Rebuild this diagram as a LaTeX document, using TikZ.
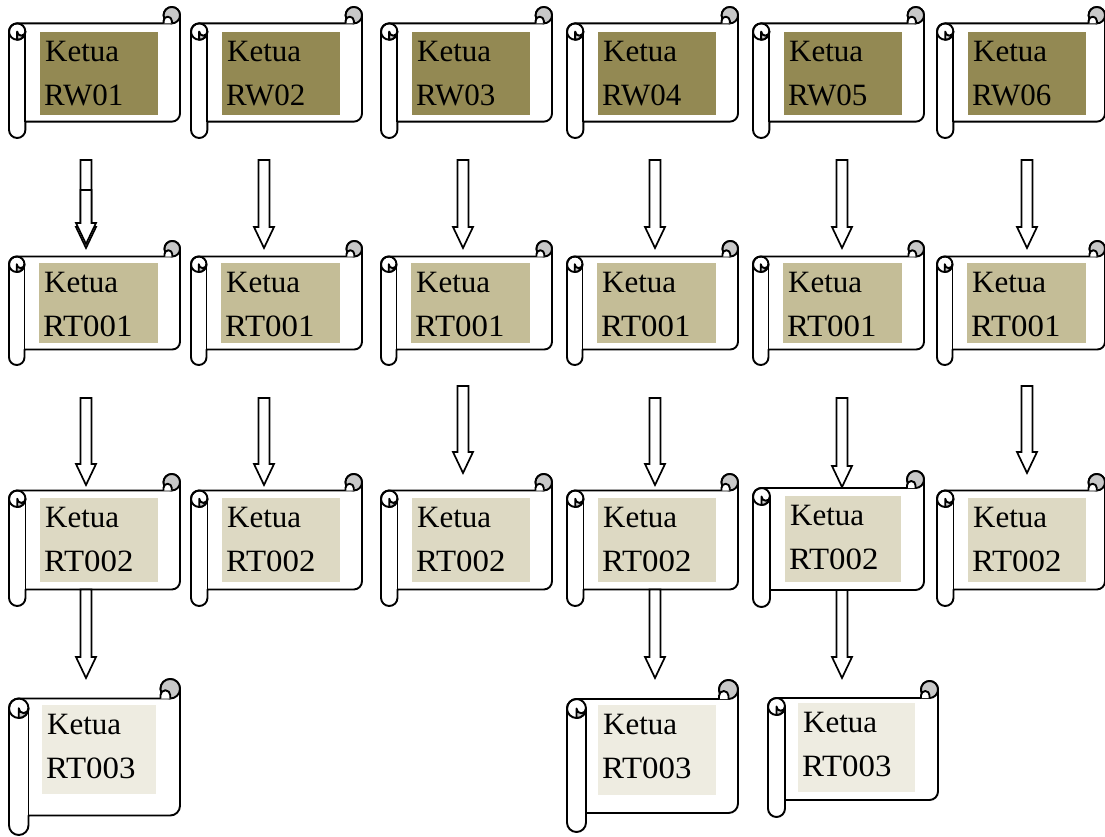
\documentclass[tikz,border=0pt]{standalone}
\usepackage{fontspec}
\setmainfont{Liberation Serif}
\newfontfamily\codefont[FakeStretch=1.06]{Liberation Serif}
\usetikzlibrary{calc}

\definecolor{olivetag}{HTML}{938953}
\definecolor{tantag}{HTML}{C4BD97}
\definecolor{sandtag}{HTML}{DDD9C3}
\definecolor{paletag}{HTML}{EEECE1}
\definecolor{curlgray}{HTML}{C8C8C8}

\tikzset{
  scrollline/.style={draw=black, line width=1.9pt, line join=round},
  scrollframe/.style={inner sep=0pt, outer sep=0pt, draw=none},
  plate/.style={inner sep=0pt, outer sep=0pt, draw=none},
  lbl/.style={inner sep=0pt, anchor=base west, font=\fontsize{31}{37}\selectfont},
  arrowbody/.style={draw=black, fill=white, line width=1.7pt, line join=miter},
  % horizontal scroll: width #1, height #2, origin at the top left corner
  pics/scroll/.style 2 args={code={
    \pgfmathsetmacro\sW{#1}
    \pgfmathsetmacro\sH{#2}
    \pgfmathsetmacro\sR{0.125*min(#1,#2)}
    \pgfmathsetmacro\sQ{\sR/2}
    \pgfmathsetmacro\sS{\sR/4}
    % sheet with the left roll
    \filldraw[scrollline, fill=white]
      (\sQ,\sR) -- ({\sW-\sQ},\sR) arc[start angle=90, end angle=360, radius=\sQ]
      -- (\sW,{\sH-\sR-\sQ}) arc[start angle=0, end angle=90, radius=\sQ]
      -- (\sR,{\sH-\sR}) -- (\sR,{\sH-\sQ}) arc[start angle=0, end angle=180, radius=\sQ]
      -- (0,{\sR+\sQ}) arc[start angle=180, end angle=270, radius=\sQ] -- cycle;
    % top right curl
    \filldraw[scrollline, fill=curlgray] ({\sW-\sQ},\sQ) circle[radius=\sQ];
    \filldraw[scrollline, fill=white]
      ({\sW-\sR},\sR) -- ({\sW-\sR},{\sQ+\sS+1.5})
      arc[start angle=180, end angle=360, radius=\sS] -- ({\sW-\sQ},\sR);
    % top of the left roll
    \draw[scrollline] (\sQ,{\sR+\sQ}) circle[radius=\sQ];
    \filldraw[scrollline, fill=curlgray]
      (\sQ,{2*\sR}) arc[start angle=90, end angle=0, radius=\sQ]
      arc[start angle=0, end angle=180, radius=\sS] -- cycle;
    \draw[scrollline] (\sR,{\sR+\sQ}) -- (\sR,{\sH-\sR});
  }},
}

% scroll named #1 with top left corner (#2,#3), width #4, height #5
\newcommand\scrollat[5]{%
  \pic at (#2,#3) {scroll={#4}{#5}};
  \node[scrollframe, minimum width=#4pt, minimum height=#5pt, anchor=north west] (#1) at (#2,#3) {};
}
% coloured label plate inside scroll #1: offset (#2,#3), size #4 x #5, colour #6, code #7
\newcommand\plateat[7]{%
  \node[plate, fill=#6, minimum width=#4pt, minimum height=#5pt, anchor=north west] (#1t) at ($(#1.north west)+(#2,#3)$) {};
  \node[lbl] (#1k) at ($(#1t.north west)+(5,29.5)$) {Ketua};
  \node[lbl] (#1n) at ($(#1t.north west)+(4,73.5)$) {#7};
}
% hollow block arrow at x=#1 from below node #2 (gap #3) to the top of node #4 (tip offset #5)
\newcommand\blockarrow[5]{%
  \draw[arrowbody] let \p1=(#2.south), \p2=(#4.north) in
    ({#1pt-5.5pt},{\y1-(#3pt)}) -- ({#1pt+5.5pt},{\y1-(#3pt)})
    -- ({#1pt+5.5pt},{\y2-(#5pt)+21pt}) -- ({#1pt+10pt},{\y2-(#5pt)+21pt})
    -- ({#1pt},{\y2-(#5pt)}) -- ({#1pt-10pt},{\y2-(#5pt)+21pt})
    -- ({#1pt-5.5pt},{\y2-(#5pt)+21pt}) -- cycle;
}

\begin{document}
\begin{tikzpicture}[x=1pt,y=-1pt]
\useasboundingbox (0,0) rectangle (1105,836);

% RW level
\scrollat{rw1}{9}{7}{171}{131}
\scrollat{rw2}{191}{7}{171}{131}
\scrollat{rw3}{381}{7}{171}{131}
\scrollat{rw4}{567}{7}{171}{131}
\scrollat{rw5}{753}{7}{171}{131}
\scrollat{rw6}{937}{7}{168}{131}
\plateat{rw1}{31}{25}{118}{83}{olivetag}{RW01}
\plateat{rw2}{31}{25}{118}{83}{olivetag}{RW02}
\plateat{rw3}{31}{25}{118}{83}{olivetag}{RW03}
\plateat{rw4}{31}{25}{118}{83}{olivetag}{RW04}
\plateat{rw5}{31}{25}{118}{83}{olivetag}{RW05}
\plateat{rw6}{31}{25}{118}{83}{olivetag}{RW06}

% RT001 level
\scrollat{ta1}{9}{241}{171}{124}
\scrollat{ta2}{191}{241}{171}{124}
\scrollat{ta3}{381}{241}{171}{124}
\scrollat{ta4}{567}{241}{171}{124}
\scrollat{ta5}{753}{241}{171}{124}
\scrollat{ta6}{937}{241}{168}{124}
\plateat{ta1}{30}{22}{119}{80}{tantag}{\codefont RT001}
\plateat{ta2}{30}{22}{119}{80}{tantag}{\codefont RT001}
\plateat{ta3}{30}{22}{119}{80}{tantag}{\codefont RT001}
\plateat{ta4}{30}{22}{119}{80}{tantag}{\codefont RT001}
\plateat{ta5}{30}{22}{119}{80}{tantag}{\codefont RT001}
\plateat{ta6}{30}{22}{119}{80}{tantag}{\codefont RT001}

% RT002 level
\scrollat{tb1}{9}{474}{171}{132}
\scrollat{tb2}{191}{474}{171}{132}
\scrollat{tb3}{381}{474}{171}{132}
\scrollat{tb4}{567}{474}{171}{132}
\scrollat{tb5}{753}{471}{171}{136}
\scrollat{tb6}{937}{474}{168}{132}
\plateat{tb1}{31}{24}{118}{84}{sandtag}{\codefont RT002}
\plateat{tb2}{31}{24}{118}{84}{sandtag}{\codefont RT002}
\plateat{tb3}{31}{24}{118}{84}{sandtag}{\codefont RT002}
\plateat{tb4}{31}{24}{118}{84}{sandtag}{\codefont RT002}
\plateat{tb5}{32}{25}{116}{86}{sandtag}{\codefont RT002}
\plateat{tb6}{31}{24}{118}{84}{sandtag}{\codefont RT002}

% RT003 level
\scrollat{tc1}{9}{679}{171}{156}
\scrollat{tc4}{567}{680}{171}{152}
\scrollat{tc5}{768}{681}{170}{136}
\plateat{tc1}{33}{26}{114}{89}{paletag}{\codefont RT003}
\plateat{tc4}{31}{25}{118}{90}{paletag}{\codefont RT003}
\plateat{tc5}{30}{22}{117}{89}{paletag}{\codefont RT003}

% RW -> RT001
\blockarrow{86}{rw1}{22}{ta1}{7}
\blockarrow{86}{rw1}{52}{ta1}{3}
\blockarrow{264}{rw2}{22}{ta2}{7}
\blockarrow{463}{rw3}{22}{ta3}{7}
\blockarrow{655}{rw4}{22}{ta4}{7}
\blockarrow{842}{rw5}{22}{ta5}{7}
\blockarrow{1027}{rw6}{22}{ta6}{7}

% RT001 -> RT002
\blockarrow{86}{ta1}{33}{tb1}{11}
\blockarrow{264}{ta2}{33}{tb2}{11}
\blockarrow{463}{ta3}{21}{tb3}{-1}
\blockarrow{655}{ta4}{33}{tb4}{11}
\blockarrow{842}{ta5}{33}{tb5}{16}
\blockarrow{1027}{ta6}{21}{tb6}{-1}

% RT002 -> RT003
\blockarrow{86}{tb1}{-16.5}{tc1}{-1}
\blockarrow{655}{tb4}{-16.5}{tc4}{-2}
\blockarrow{842}{tb5}{-17}{tc5}{-3}
\end{tikzpicture}
\end{document}
